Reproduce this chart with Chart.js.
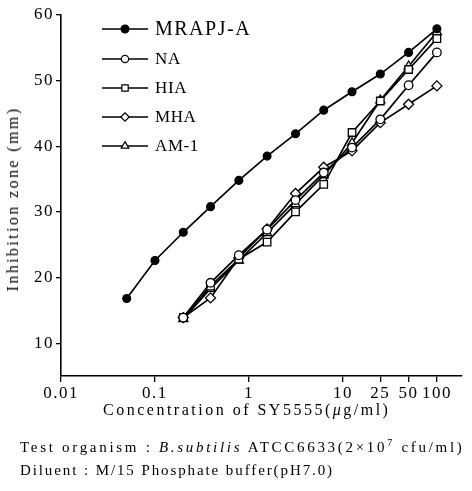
<!DOCTYPE html>
<html>
<head>
<meta charset="utf-8">
<script src="https://cdn.jsdelivr.net/npm/chart.js@4/dist/chart.umd.min.js"></script>
<style>
  html, body { margin:0; padding:0; background:#fff; }
  #wrap { position:relative; width:472px; height:491px; overflow:hidden; font-family:'Liberation Serif', 'DejaVu Serif', serif; color:#000; }
  #c { position:absolute; left:0; top:0; }
  .t { position:absolute; white-space:nowrap; }
  #ytitle { left:13px; top:199px; font-size:16px; letter-spacing:2.4px; transform:translate(-50%,-50%) rotate(-90deg); }
  #xtitle { left:103px; top:401px; font-size:16px; letter-spacing:2.5px; }
  #f1 { left:20px; top:437px; font-size:15px; letter-spacing:2.7px; }
  #f2 { left:20px; top:462px; font-size:15px; letter-spacing:1.9px; }
</style>
</head>
<body>
<div id="wrap">
  <canvas id="c" width="472" height="491"></canvas>
  <div class="t" id="ytitle">Inhibition zone (mm)</div>
  <div class="t" id="xtitle">Concentration of SY5555(<i>μ</i>g/ml)</div>
  <div class="t" id="f1">Test organism : <i>B.subtilis</i> ATCC6633(2×10<sup style="font-size:10px">7</sup> cfu/ml)</div>
  <div class="t" id="f2">Diluent : M/15 Phosphate buffer(pH7.0)</div>
</div>
<script>
const seriesNames = ['MRAPJ-A', 'NA', 'HIA', 'MHA', 'AM-1'];
const concMRAPJ = [0.05, 0.1, 0.2, 0.39, 0.78, 1.56, 3.13, 6.25, 12.5, 25, 50, 100];
const concOthers = [0.2, 0.39, 0.78, 1.56, 3.13, 6.25, 12.5, 25, 50, 100];
const zoneMRAPJ = [16.8, 22.6, 26.9, 30.8, 34.8, 38.5, 41.9, 45.5, 48.3, 51.0, 54.3, 57.9];
const zoneNA    = [13.9, 19.2, 23.4, 27.3, 31.8, 36.0, 39.8, 44.1, 49.3, 54.3];
const zoneHIA   = [13.9, 18.7, 22.8, 25.4, 30.0, 34.2, 42.1, 46.9, 51.7, 56.4];
const zoneMHA   = [13.9, 16.9, 23.0, 27.4, 32.8, 36.8, 39.3, 43.6, 46.4, 49.2];
const zoneAM1   = [13.7, 18.3, 22.6, 26.8, 31.2, 35.6, 40.5, 47.0, 52.2, 57.4];
const xTickValues = [0.01, 0.1, 1, 10, 25, 50, 100];
const xTickLabels = ['0.01', '0.1', '1', '10', '25', '50', '100'];
const yTickValues = [10, 20, 30, 40, 50, 60];

const toPts = (xs, ys) => xs.map((x, i) => ({x: x, y: ys[i]}));

const styles = [
  {pointStyle:'circle', radius:3.9, fill:'#000'},
  {pointStyle:'circle', radius:4.3, fill:'#fff'},
  {pointStyle:'rect', radius:5.3, fill:'#fff'},
  {pointStyle:'rectRot', radius:5, fill:'#fff'},
  {pointStyle:'triangle', radius:5.2, fill:'#fff'}
];
const dataSets = [
  toPts(concMRAPJ, zoneMRAPJ),
  toPts(concOthers, zoneNA),
  toPts(concOthers, zoneHIA),
  toPts(concOthers, zoneMHA),
  toPts(concOthers, zoneAM1)
];

const datasets = dataSets.map((d, i) => ({
  label: seriesNames[i],
  data: d,
  borderColor: '#000',
  borderWidth: 1.7,
  pointStyle: styles[i].pointStyle,
  pointRadius: styles[i].radius,
  pointBackgroundColor: styles[i].fill,
  pointBorderColor: '#000',
  pointBorderWidth: 1.3,
  tension: 0,
  fill: false
}));

const legendPlugin = {
  id: 'customLegend',
  afterDraw(chart) {
    const ctx = chart.ctx;
    const rowsY = [29, 59, 88, 117, 146];
    const sizes = [20, 17, 17, 17, 17];
    ctx.save();
    chart.data.datasets.forEach((ds, i) => {
      const y = rowsY[i];
      ctx.strokeStyle = '#000';
      ctx.lineWidth = 1.6;
      ctx.beginPath();
      ctx.moveTo(102, y);
      ctx.lineTo(148, y);
      ctx.stroke();
      ctx.fillStyle = ds.pointBackgroundColor;
      ctx.lineWidth = 1.2;
      const r = i === 0 ? 3.9 : ds.pointRadius * 0.85;
      Chart.helpers.drawPoint(ctx, {pointStyle: ds.pointStyle, rotation: 0, radius: r, borderWidth: 1.2}, 125, y);
      ctx.fillStyle = '#000';
      ctx.font = sizes[i] + 'px "Liberation Serif"';
      ctx.letterSpacing = i === 0 ? '1.5px' : '0.6px';
      ctx.textBaseline = 'middle';
      ctx.textAlign = 'left';
      ctx.fillText(ds.label, 155, y + 1);
    });
    ctx.restore();
  }
};

const spacingPlugin = {
  id: 'spacing',
  beforeDraw(chart) { chart.ctx.letterSpacing = '1.5px'; },
  afterDraw(chart) { chart.ctx.letterSpacing = '0px'; }
};

new Chart(document.getElementById('c'), {
  type: 'line',
  data: { datasets: datasets },
  plugins: [spacingPlugin, legendPlugin],
  options: {
    responsive: false,
    animation: false,
    layout: { padding: { top: 15, right: 10, left: 0, bottom: 0 } },
    plugins: { legend: { display: false }, tooltip: { enabled: false } },
    scales: {
      x: {
        type: 'logarithmic',
        min: 0.01,
        max: 185,
        afterBuildTicks(scale) { scale.ticks = xTickValues.map(v => ({value: v})); },
        afterFit(scale) { scale.height = 115; },
        ticks: {
          autoSkip: false,
          maxRotation: 0,
          color: '#000',
          font: { family: 'Liberation Serif', size: 17 },
          padding: 1,
          callback(value) { const i = xTickValues.indexOf(value); return i >= 0 ? xTickLabels[i] : ''; }
        },
        grid: { display: true, drawOnChartArea: false, drawTicks: true, tickLength: 6, color: '#000', lineWidth: 1.3 },
        border: { display: true, color: '#000', width: 1.6 }
      },
      y: {
        type: 'linear',
        min: 5,
        max: 60,
        afterBuildTicks(scale) { scale.ticks = yTickValues.map(v => ({value: v})); },
        afterFit(scale) { scale.width = 61; },
        ticks: {
          color: '#000',
          font: { family: 'Liberation Serif', size: 17 },
          padding: 2
        },
        grid: { display: true, drawOnChartArea: false, drawTicks: true, tickLength: 5, color: '#000', lineWidth: 1.3 },
        border: { display: true, color: '#000', width: 1.6 }
      }
    }
  }
});
</script>
</body>
</html>
